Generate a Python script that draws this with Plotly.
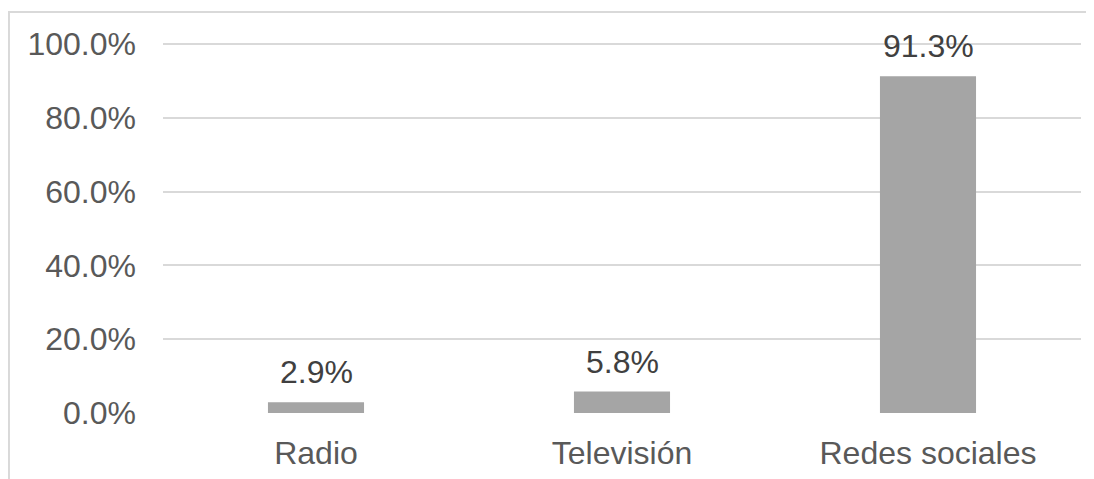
import plotly.graph_objects as go

categories = ["Radio", "Televisión", "Redes sociales"]
values = [0.029, 0.058, 0.913]
labels = ["2.9%", "5.8%", "91.3%"]
tick_vals = [0, 0.2, 0.4, 0.6, 0.8, 1.0]
tick_text = ["0.0%", "20.0%", "40.0%", "60.0%", "80.0%", "100.0%"]

font_family = "Liberation Sans, Arial, sans-serif"

fig = go.Figure()
fig.add_trace(go.Bar(
    x=categories, y=values,
    marker_color="#A5A5A5", marker_line_width=0,
))

# data labels sit a bit higher above the bars than plotly's outside text
for cat, val, lab in zip(categories, values, labels):
    fig.add_annotation(x=cat, y=val, text=lab, showarrow=False,
                       yanchor="bottom", yshift=10,
                       font=dict(size=32, color="#404040", family=font_family))

# outer chart border (Excel style), partly cut off at right and bottom
fig.add_shape(type="rect", xref="paper", yref="paper",
              x0=-0.1678, x1=1.03, y0=-0.25, y1=1.0838,
              line=dict(color="#D9D9D9", width=2), layer="below")

# page body has an 8px margin, so the figure is shifted by it
fig.update_layout(
    width=1086, height=471,
    margin=dict(l=155, r=13, t=35, b=66),
    paper_bgcolor="white", plot_bgcolor="white",
    bargap=0.686,
    showlegend=False,
    font=dict(family=font_family, color="#595959", size=32),
)
fig.update_yaxes(range=[0, 1.003], tickvals=tick_vals, ticktext=tick_text,
                 showgrid=True, gridcolor="#D9D9D9", gridwidth=1.5,
                 zeroline=False, showline=False, ticks="",
                 ticklabelstandoff=26, automargin=False,
                 tickfont=dict(size=32, color="#595959"))
fig.update_xaxes(showgrid=False, showline=False, ticks="",
                 ticklabelstandoff=18, automargin=False,
                 tickfont=dict(size=32, color="#595959"))

fig.write_html("out.html")
